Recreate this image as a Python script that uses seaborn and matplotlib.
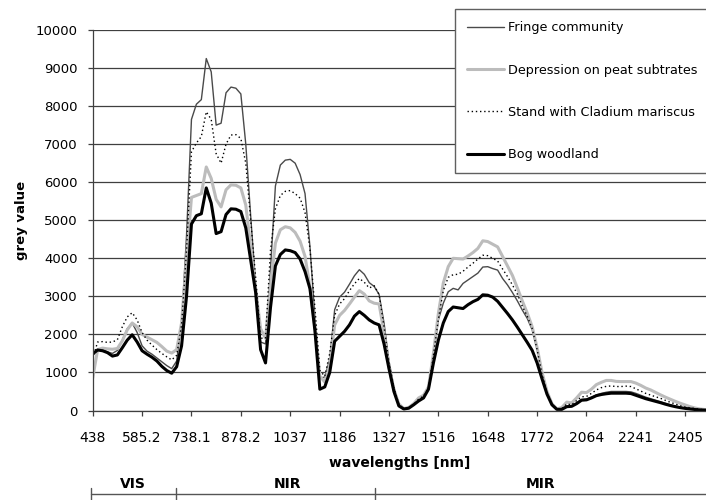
import numpy as np
import pandas as pd
import matplotlib
matplotlib.use("Agg")
import matplotlib.pyplot as plt
import matplotlib.transforms as mtransforms
from matplotlib.lines import Line2D
import seaborn as sns

# HyMap band centres shown on the category axis (every 10th band)
tick_labels = ["438", "585.2", "738.1", "878.2", "1037", "1186", "1327",
               "1516", "1648", "1772", "2064", "2241", "2405"]

# Mean grey value per band for each vegetation class (126 bands)
fringe = [
    1450, 1600, 1600, 1540, 1500, 1580, 1850, 2150, 2300, 2050,
    1700, 1560, 1480, 1380, 1280, 1180, 1100, 1300, 2300, 4600,
    7650, 8050, 8170, 9250, 8900, 7500, 7550, 8350, 8500, 8470,
    8320, 7000, 5100, 3300, 1800, 1750, 3700, 5900, 6450, 6580,
    6600, 6500, 6200, 5700, 4300, 2450, 850, 880, 1350, 2650,
    2980, 3110, 3320, 3540, 3700, 3580, 3360, 3260, 3050, 2300,
    1300, 620, 150, 40, 65, 150, 280, 360, 580, 1400,
    2380, 2820, 3120, 3210, 3170, 3340, 3430, 3520, 3610, 3770,
    3780, 3730, 3690, 3470, 3300, 3100, 2880, 2640, 2420, 2120,
    1600, 1000, 500, 180, 40, 40, 120, 120, 200, 290,
    300, 350, 410, 450, 480, 500, 500, 500, 500, 490,
    450, 400, 350, 310, 270, 230, 190, 150, 115, 85,
    60, 45, 30, 20, 12, 8]

depression = [
    850, 1600, 1640, 1620, 1610, 1630, 1830, 2120, 2300, 2200,
    2000, 1930, 1860, 1790, 1680, 1560, 1510, 1600, 2300, 4000,
    5600, 5650, 5700, 6400, 6100, 5550, 5350, 5800, 5930, 5920,
    5850, 5400, 4300, 3200, 2150, 1900, 3300, 4400, 4750, 4830,
    4800, 4680, 4450, 4050, 3250, 2200, 900, 750, 1200, 2250,
    2500, 2630, 2800, 2980, 3150, 3060, 2880, 2820, 2800, 2050,
    1150, 550, 170, 50, 80, 180, 330, 400, 620, 1500,
    2550, 3350, 3780, 4000, 3990, 3980, 4060, 4150, 4260, 4460,
    4440, 4370, 4300, 4050, 3800, 3550, 3220, 2880, 2560, 2200,
    1650, 1000, 500, 180, 40, 80, 220, 200, 330, 480,
    470, 560, 680, 740, 790, 790, 765, 760, 760, 760,
    720, 660, 590, 540, 475, 410, 350, 295, 240, 190,
    145, 100, 65, 40, 25, 15]

cladium = [
    1370, 1800, 1810, 1790, 1800, 1860, 2200, 2460, 2570, 2380,
    2050, 1850, 1720, 1600, 1500, 1410, 1330, 1450, 2250, 4200,
    6800, 7030, 7200, 7850, 7650, 6750, 6500, 7000, 7240, 7250,
    7150, 6500, 5000, 3500, 1900, 1900, 4200, 5300, 5650, 5760,
    5780, 5700, 5580, 5200, 4250, 2700, 1050, 900, 1500, 2500,
    2800, 2940, 3150, 3330, 3470, 3370, 3220, 3280, 3050, 2200,
    1250, 600, 160, 45, 70, 160, 300, 380, 600, 1450,
    2400, 3150, 3500, 3570, 3580, 3660, 3770, 3870, 3980, 4080,
    4070, 4000, 3930, 3720, 3520, 3300, 3060, 2740, 2480, 2150,
    1600, 950, 470, 160, 30, 50, 170, 150, 260, 360,
    370, 450, 540, 600, 635, 645, 630, 630, 640, 630,
    570, 510, 450, 405, 360, 320, 265, 215, 170, 125,
    90, 70, 50, 30, 20, 12]

bog = [
    1490, 1590, 1570, 1520, 1430, 1460, 1650, 1850, 1990, 1800,
    1570, 1480, 1400, 1300, 1160, 1050, 980, 1150, 1700, 3000,
    4900, 5120, 5170, 5850, 5450, 4650, 4700, 5150, 5300, 5290,
    5230, 4800, 3950, 3100, 1600, 1250, 2700, 3800, 4100, 4220,
    4200, 4150, 3980, 3650, 3200, 2100, 560, 620, 1000, 1820,
    1950, 2080, 2250, 2480, 2600, 2500, 2380, 2300, 2250, 1750,
    1100, 500, 120, 40, 60, 150, 250, 330, 560, 1250,
    1850, 2300, 2600, 2720, 2700, 2680, 2780, 2860, 2920, 3040,
    3030, 2980, 2870, 2710, 2550, 2380, 2190, 1990, 1790, 1580,
    1250, 830, 430, 150, 30, 30, 100, 110, 180, 270,
    280, 330, 390, 420, 440, 455, 455, 455, 455, 445,
    400, 355, 310, 275, 240, 205, 165, 130, 100, 75,
    55, 40, 25, 15, 10, 8]

class_names = ["Fringe community", "Depression on peat subtrates",
               "Stand with Cladium mariscus", "Bog woodland"]

regions = ["VIS", "NIR", "MIR"]

sns.set_theme(style="white")
plt.rcParams["font.family"] = ["DejaVu Sans"]
plt.rcParams["text.color"] = "black"
plt.rcParams["axes.labelcolor"] = "black"
plt.rcParams["xtick.color"] = "black"
plt.rcParams["ytick.color"] = "black"

df = pd.DataFrame({"band": np.arange(len(bog))})
for name, values in zip(class_names, [fringe, depression, cladium, bog]):
    df[name] = values
long = df.melt(id_vars="band", var_name="class", value_name="grey")

line_styles = {
    "Fringe community": dict(color="#4a4a4a", linewidth=1.0, linestyle="-"),
    "Depression on peat subtrates": dict(color="#bcbcbc", linewidth=2.2, linestyle="-"),
    "Stand with Cladium mariscus": dict(color="black", linewidth=1.0, linestyle=(0, (1, 2))),
    "Bog woodland": dict(color="black", linewidth=2.2, linestyle="-"),
}

fig = plt.figure(figsize=(7.06, 5.0), dpi=100)
ax = fig.add_axes([0.1313, 0.179, 0.8687, 0.761])

grid_col = "#3f3f3f"
for name in class_names:
    sub = long[long["class"] == name]
    sns.lineplot(data=sub, x="band", y="grey", ax=ax, legend=False,
                 **line_styles[name])

ax.set_xlim(0, 124.2)
ax.set_ylim(0, 10000)
ax.set_yticks(np.arange(0, 10001, 1000))
ax.set_xticks(np.arange(0, 10 * len(tick_labels), 10))
ax.set_xticklabels(tick_labels)
ax.yaxis.grid(True, color=grid_col, linewidth=0.9)
ax.xaxis.grid(False)
ax.set_axisbelow(True)

for side in ["top", "right"]:
    ax.spines[side].set_visible(False)
for side in ["left", "bottom"]:
    ax.spines[side].set_color(grid_col)
    ax.spines[side].set_linewidth(0.9)

ax.tick_params(axis="both", bottom=True, left=True, direction="out",
               length=3.6, width=0.9, color=grid_col)
ax.tick_params(axis="x", labelsize=10, pad=11)
ax.tick_params(axis="y", labelsize=9.5, pad=7)

ax.set_xlabel("wavelengths [nm]", fontsize=10, fontweight="bold", va="center")
ax.xaxis.set_label_coords(0.5, -(463 - 410.5) / 380)
ax.set_ylabel("grey value", fontsize=9.5, fontweight="bold", va="center")
ax.yaxis.set_label_coords(-(93 - 22) / 613, 0.5)

# Spectral region bar under the axis
trans = mtransforms.blended_transform_factory(ax.transData, fig.transFigure)
bar_y = 1 - 494 / 500
fig.add_artist(Line2D([-0.35, 126], [bar_y, bar_y], transform=trans,
                      color="#555555", linewidth=1.0))
for xb in [-0.35, 16.8, 57.2]:
    fig.add_artist(Line2D([xb, xb], [0.0, 1 - 488 / 500], transform=trans,
                          color="#555555", linewidth=1.0))
for name, xc in zip(regions, [8.2, 39.4, 90.6]):
    fig.text(xc, 1 - 484 / 500, name, transform=trans, ha="center",
             va="center", fontsize=10, fontweight="bold")

# Legend box in the upper right corner
handles = [Line2D([], [], **line_styles[n]) for n in class_names]
leg = ax.legend(handles, class_names, loc="upper left",
                bbox_to_anchor=(455 / 706, 1 - 9 / 500),
                bbox_transform=fig.transFigure, borderaxespad=0,
                fontsize=9.2, frameon=True, fancybox=False, shadow=False,
                handlelength=2.9, handletextpad=0.3, labelspacing=2.3,
                borderpad=0.95)
leg.get_frame().set_edgecolor("#606060")
leg.get_frame().set_linewidth(1.0)
leg.get_frame().set_facecolor("white")
leg.get_frame().set_alpha(1.0)

fig.savefig("out.png", dpi=100)
